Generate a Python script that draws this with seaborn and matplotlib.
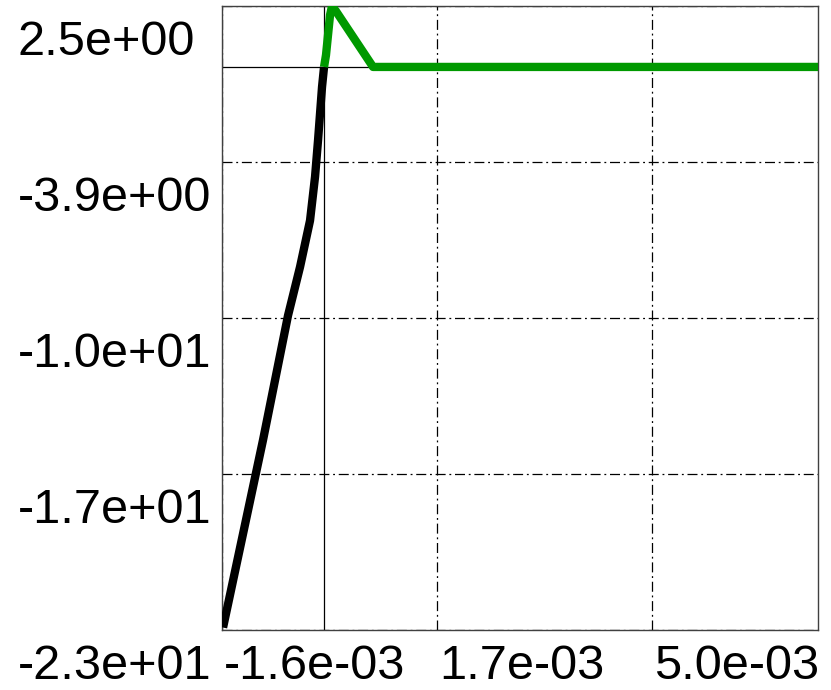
import numpy as np
import pandas as pd
import matplotlib
matplotlib.use("Agg")
import matplotlib.pyplot as plt
import matplotlib.transforms as mtransforms
import seaborn as sns

# ---- data ----
black_x = [-1.550e-3, -0.936e-3, -0.553e-3, -0.368e-3, -0.215e-3, -0.138e-3, -0.092e-3, -0.031e-3, 0.0]
black_y = [-23.0, -15.3, -10.2, -8.2, -6.3, -4.5, -3.0, -0.82, 0.0]
green_x = [0.0, 0.03e-3, 0.092e-3, 0.123e-3, 0.18e-3, 0.752e-3, 7.58e-3]
green_y = [0.0, 0.49, 2.13, 2.5, 2.3, 0.0, 0.0]

x_ticks = [-1.566e-3, 1.734e-3, 5.034e-3]
x_labels = ["-1.6e-03", "1.7e-03", "5.0e-03"]
y_ticks = [2.5, -3.9, -10.3, -16.7, -23.1]
y_labels = ["2.5e+00", "-3.9e+00", "-1.0e+01", "-1.7e+01", "-2.3e+01"]
x_limits = (-1.566e-3, 7.58e-3)
y_limits = (-23.1, 2.5)

sns.set_style("white")
plt.rcParams['font.family'] = ['Liberation Sans', 'DejaVu Sans']

W, H, DPI = 831, 690, 100
fig = plt.figure(figsize=(W / DPI, H / DPI), dpi=DPI)
ax = fig.add_axes([222 / W, (H - 630) / H, (818 - 222) / W, (630 - 6) / H])

df_black = pd.DataFrame({"x": black_x, "y": black_y})
df_green = pd.DataFrame({"x": green_x, "y": green_y})

ax.set_xlim(*x_limits)
ax.set_ylim(*y_limits)

# grid lines (dash-dot) at tick positions
ax.set_xticks(x_ticks)
ax.set_yticks(y_ticks)
ax.tick_params(length=0, labelbottom=False, labelleft=False)
ax.grid(True, color="black", linestyle=(0, (8, 3, 1.5, 3)), linewidth=0.9)
ax.set_axisbelow(True)

# zero axis lines (solid)
ax.axhline(0, color="black", lw=0.9, zorder=1.5)
ax.axvline(0, color="black", lw=0.9, zorder=1.5)

sns.lineplot(data=df_black, x="x", y="y", ax=ax, color="black", lw=6,
             sort=False, estimator=None, solid_capstyle="butt", zorder=3)
sns.lineplot(data=df_green, x="x", y="y", ax=ax, color="#009900", lw=6,
             sort=False, estimator=None, solid_capstyle="butt", zorder=4)
ax.set_xlabel("")
ax.set_ylabel("")

for s in ax.spines.values():
    s.set_color("#404040")
    s.set_linewidth(1.0)
    s.set_visible(True)

# tick labels
fs = 35
off_y = mtransforms.ScaledTranslation(0, -14 / DPI, fig.dpi_scale_trans)
tr_y = mtransforms.blended_transform_factory(fig.transFigure, ax.transData) + off_y
for v, lab in zip(y_ticks, y_labels):
    ax.text(18 / W, v, lab, transform=tr_y, ha="left", va="top",
            fontsize=fs, color="black", clip_on=False)

off_x = mtransforms.ScaledTranslation(2 / DPI, -14 / DPI, fig.dpi_scale_trans)
tr_x = mtransforms.blended_transform_factory(ax.transData, ax.transAxes) + off_x
for v, lab in zip(x_ticks, x_labels):
    ax.text(v, 0, lab, transform=tr_x, ha="left", va="top",
            fontsize=fs, color="black", clip_on=False)

fig.savefig("out.png", dpi=DPI)
